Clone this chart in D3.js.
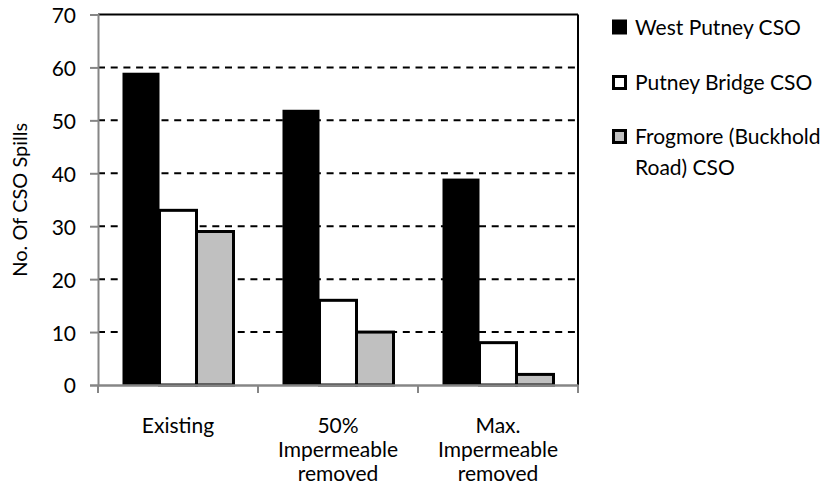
<!DOCTYPE html>
<html>
<head>
<meta charset="utf-8">
<script src="https://cdn.jsdelivr.net/npm/d3@7"></script>
<style>
  html, body { margin: 0; padding: 0; background: #fff; }
  svg { display: block; }
  text { font-family: Lato, "Open Sans", sans-serif; fill: #000; }
</style>
</head>
<body>
<svg id="chart" width="838" height="503"></svg>
<script>
const categories = ["Existing", "50%\nImpermeable\nremoved", "Max.\nImpermeable\nremoved"];
const seriesNames = ["West Putney CSO", "Putney Bridge CSO", "Frogmore (Buckhold\nRoad) CSO"];
const westPutney = [59, 52, 39];
const putneyBridge = [33, 16, 8];
const frogmore = [29, 10, 2];
const yTicks = [0, 10, 20, 30, 40, 50, 60, 70];
const yTitle = "No. Of CSO Spills";

const seriesValues = [westPutney, putneyBridge, frogmore];
const fills = ["#000000", "#ffffff", "#c0c0c0"];

const svg = d3.select("#chart");
const plot = { left: 98, right: 578, top: 14.5, bottom: 385 };

const x0 = d3.scaleBand().domain(categories).range([plot.left, plot.right]).paddingInner(0).paddingOuter(0);
const groupPad = 24.5;
const x1 = d3.scaleBand().domain(d3.range(seriesNames.length))
  .range([groupPad, x0.bandwidth() - groupPad]).padding(0);
const y = d3.scaleLinear().domain([0, 70]).range([plot.bottom, plot.top]);

// gridlines (dashed)
svg.append("g").selectAll("line")
  .data(yTicks.filter(t => t > 0 && t < 70))
  .join("line")
  .attr("x1", plot.left).attr("x2", plot.right)
  .attr("y1", d => y(d)).attr("y2", d => y(d))
  .attr("stroke", "#000").attr("stroke-width", 2)
  .attr("stroke-dasharray", "7,5.7");

// plot border top and right
svg.append("line").attr("x1", plot.left).attr("x2", plot.right)
  .attr("y1", y(70)).attr("y2", y(70)).attr("stroke", "#000").attr("stroke-width", 2);
svg.append("line").attr("x1", plot.right).attr("x2", plot.right)
  .attr("y1", y(70)).attr("y2", y(0)).attr("stroke", "#000").attr("stroke-width", 2);

// bars
const data = [];
categories.forEach((c, ci) => seriesValues.forEach((vals, si) => data.push({ c, si, v: vals[ci] })));

svg.append("g").selectAll("rect")
  .data(data)
  .join("rect")
  .attr("x", d => x0(d.c) + x1(d.si))
  .attr("width", x1.bandwidth())
  .attr("y", d => y(d.v))
  .attr("height", d => y(0) - y(d.v))
  .attr("fill", d => fills[d.si])
  .attr("stroke", "#000")
  .attr("stroke-width", d => d.si === 0 ? 0 : 3);

// y axis
const yAxis = d3.axisLeft(y).tickValues(yTicks).tickSize(8).tickPadding(14);
const gy = svg.append("g").attr("transform", `translate(${plot.left},0)`).call(yAxis);
gy.select(".domain").attr("stroke", "#868686").attr("stroke-width", 2);
gy.selectAll(".tick line").attr("stroke", "#868686").attr("stroke-width", 2);
gy.selectAll(".tick text").attr("font-size", 21).attr("font-family", "Lato, sans-serif").attr("dy", "0.38em").attr("fill", "#000");

// x axis
const xAxis = d3.axisBottom(x0).tickValues([]).tickSizeOuter(0);
const gx = svg.append("g").attr("transform", `translate(0,${plot.bottom})`).call(xAxis);
gx.select(".domain").attr("stroke", "#868686").attr("stroke-width", 2.5);
const boundaries = categories.map(c => x0(c)).concat([plot.right]);
gx.selectAll("line.bt").data(boundaries).join("line").attr("class", "bt")
  .attr("x1", d => d).attr("x2", d => d).attr("y1", 0).attr("y2", 8)
  .attr("stroke", "#868686").attr("stroke-width", 2);

// category labels
const labels = svg.append("g");
categories.forEach(c => {
  const t = labels.append("text")
    .attr("x", x0(c) + x0.bandwidth() / 2)
    .attr("y", 433)
    .attr("text-anchor", "middle")
    .attr("font-size", 21);
  c.split("\n").forEach((line, i) => {
    t.append("tspan").attr("x", x0(c) + x0.bandwidth() / 2).attr("dy", i === 0 ? 0 : 24).text(line);
  });
});

// y title
svg.append("text")
  .attr("transform", `translate(27,${(plot.top + plot.bottom) / 2}) rotate(-90)`)
  .attr("text-anchor", "middle")
  .attr("font-size", 20)
  .text(yTitle);

// legend
const legend = svg.append("g");
const legY = [19.5, 75, 129];
seriesNames.forEach((name, i) => {
  const g = legend.append("g").attr("transform", `translate(612,${legY[i]})`);
  g.append("rect").attr("x", i === 0 ? 0 : 1.5).attr("y", i === 0 ? 0 : 1.5)
    .attr("width", i === 0 ? 15 : 12).attr("height", i === 0 ? 15 : 12)
    .attr("fill", fills[i]).attr("stroke", "#000").attr("stroke-width", i === 0 ? 0 : 3);
  const t = g.append("text").attr("x", 23).attr("y", 15).attr("font-size", 21);
  name.split("\n").forEach((line, j) => {
    t.append("tspan").attr("x", 23).attr("dy", j === 0 ? 0 : 31).text(line);
  });
});
</script>
</body>
</html>
